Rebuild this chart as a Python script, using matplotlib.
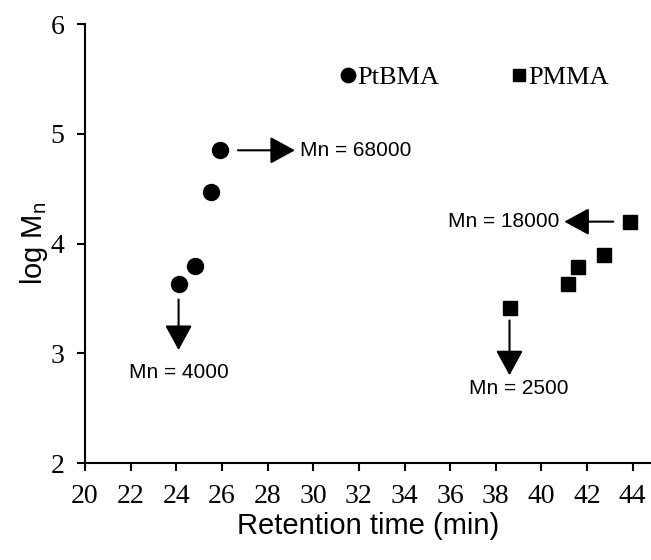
import matplotlib
matplotlib.use('Agg')
import matplotlib.pyplot as plt

plt.rcParams['font.family'] = 'Liberation Serif'
plt.rcParams['mathtext.fontset'] = 'custom'
plt.rcParams['mathtext.rm'] = 'Liberation Sans'

# retention time (min) vs log Mn
ptbma_x = [24.1, 24.8, 25.5, 25.9]
ptbma_y = [3.63, 3.80, 4.47, 4.85]
pmma_x = [38.6, 41.15, 41.6, 42.75, 43.9]
pmma_y = [3.41, 3.63, 3.79, 3.90, 4.20]
xticks = list(range(20, 45, 2))
yticks = [2, 3, 4, 5, 6]

sans = 'Liberation Sans'
serif = 'Liberation Serif'

fig = plt.figure(figsize=(6.51, 5.6), dpi=100)
ax = fig.add_axes([0.1306, 0.173, 0.8694, 0.784])

ax.plot(ptbma_x, ptbma_y, 'o', color='black', markersize=11.5, label='PtBMA')
ax.plot(pmma_x, pmma_y, 's', color='black', markersize=10, label='PMMA')

arrow = dict(arrowstyle='-|>,head_length=0.55,head_width=0.3', color='black',
             lw=1.5, mutation_scale=28, shrinkA=0, shrinkB=0)
ax.annotate('', xy=(ptbma_x[0], 3.03), xytext=(ptbma_x[0], 3.49), arrowprops=arrow)
ax.text(ptbma_x[0], 2.83, 'Mn = 4000', family=sans, fontsize=15, ha='center', va='center')
ax.annotate('', xy=(29.2, ptbma_y[-1]), xytext=(26.7, ptbma_y[-1]), arrowprops=arrow)
ax.text(29.4, ptbma_y[-1], 'Mn = 68000', family=sans, fontsize=15, ha='left', va='center')
ax.annotate('', xy=(41.0, pmma_y[-1]), xytext=(43.15, pmma_y[-1]), arrowprops=arrow)
ax.text(40.8, pmma_y[-1], 'Mn = 18000', family=sans, fontsize=15, ha='right', va='center')
ax.annotate('', xy=(pmma_x[0], 2.8), xytext=(pmma_x[0], 3.3), arrowprops=arrow)
ax.text(39.0, 2.68, 'Mn = 2500', family=sans, fontsize=15, ha='center', va='center')

ax.set_xlim(20, 44.8)
ax.set_ylim(2, 6)
ax.set_xticks(xticks, labels=[str(t) for t in xticks], fontfamily=serif, fontsize=20)
ax.set_yticks(yticks, labels=[str(t) for t in yticks], fontfamily=serif, fontsize=20)
for s in ['top', 'right']:
    ax.spines[s].set_visible(False)
for s in ['left', 'bottom']:
    ax.spines[s].set_linewidth(1.5)
ax.tick_params(direction='out', length=6, width=1.5, pad=9)

ax.set_xlabel('Retention time (min)', family=sans, fontsize=21, labelpad=2)
ax.set_ylabel(r'log M$_{\rm n}$', family=sans, fontsize=21, labelpad=0)

ax.legend(loc='upper left', bbox_to_anchor=(0.40, 0.96), ncol=2, frameon=False,
          prop={'family': serif, 'size': 19}, handletextpad=-0.15,
          columnspacing=2.5, markerscale=0.9, handlelength=1.0)

fig.savefig('out.png', dpi=100)
